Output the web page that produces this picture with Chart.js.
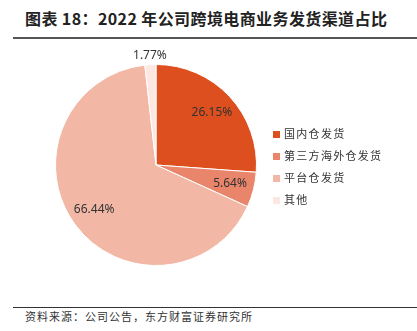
<!DOCTYPE html>
<html>
<head>
<meta charset="utf-8">
<script src="https://cdn.jsdelivr.net/npm/chart.js@4"></script>
<style>
  body { margin: 0; width: 417px; height: 331px; background: #fff; position: relative; overflow: hidden;
         font-family: "Noto Sans CJK SC", "Noto Sans", sans-serif; color: #222; }
  #title { position: absolute; left: 25px; top: 6px; font-size: 16px; font-weight: bold; letter-spacing: 0.4px; white-space: nowrap; }
  #topline { position: absolute; left: 13px; right: 0; top: 37px; height: 1.5px; background: #555; }
  #bottomline { position: absolute; left: 13px; right: 0; top: 307px; height: 1px; background: #333; }
  #source { position: absolute; left: 25px; top: 308px; font-size: 11px; letter-spacing: 1px; color: #333; white-space: nowrap; }
  #chart-box { position: absolute; left: 0; top: 40px; width: 417px; height: 265px; }
  #legend { position: absolute; left: 273px; top: 124px; font-size: 11px; letter-spacing: 1.3px; color: #333; }
  #legend div { height: 22px; line-height: 18px; white-space: nowrap; }
  #legend span { display: inline-block; width: 7px; height: 7px; margin-right: 4px; vertical-align: 0px; }
</style>
</head>
<body>
<div id="title">图表 18：2022 年公司跨境电商业务发货渠道占比</div>
<div id="topline"></div>
<div id="chart-box"><canvas id="pie"></canvas></div>
<div id="legend"></div>
<div id="bottomline"></div>
<div id="source">资料来源：公司公告，东方财富证券研究所</div>
<script>
// Chart data
const channels = ['国内仓发货', '第三方海外仓发货', '平台仓发货', '其他'];
const shares = [26.15, 5.64, 66.44, 1.77];
const colors = ['#DD4F1E', '#E8856A', '#F2B8A5', '#FDE7E1'];

// Build legend
const legend = document.getElementById('legend');
channels.forEach((name, i) => {
  const row = document.createElement('div');
  row.innerHTML = '<span style="background:' + colors[i] + '"></span>' + name;
  legend.appendChild(row);
});

// Percentage labels on the slices
const sliceLabels = {
  id: 'sliceLabels',
  afterDatasetsDraw(chart) {
    const ctx = chart.ctx;
    const arcs = chart.getDatasetMeta(0).data;
    ctx.save();
    ctx.font = '12px "Noto Sans", sans-serif';
    ctx.fillStyle = '#333';
    ctx.textAlign = 'center';
    ctx.textBaseline = 'middle';
    arcs.forEach((arc, i) => {
      const mid = (arc.startAngle + arc.endAngle) / 2;
      const frac = shares[i] < 3 ? 1.09 : 0.76;
      const r = arc.outerRadius * frac;
      ctx.fillText(shares[i].toFixed(2) + '%', arc.x + Math.cos(mid) * r, arc.y + Math.sin(mid) * r);
    });
    ctx.restore();
  }
};

new Chart(document.getElementById('pie'), {
  type: 'pie',
  data: {
    labels: channels,
    datasets: [{
      data: shares,
      backgroundColor: colors,
      borderColor: '#fff',
      borderWidth: 1,
      hoverOffset: 0
    }]
  },
  options: {
    responsive: true,
    maintainAspectRatio: false,
    animation: false,
    layout: { padding: { left: 55, right: 160, top: 24, bottom: 39 } },
    plugins: {
      legend: { display: false },
      tooltip: { enabled: false }
    }
  },
  plugins: [sliceLabels]
});
</script>
</body>
</html>
